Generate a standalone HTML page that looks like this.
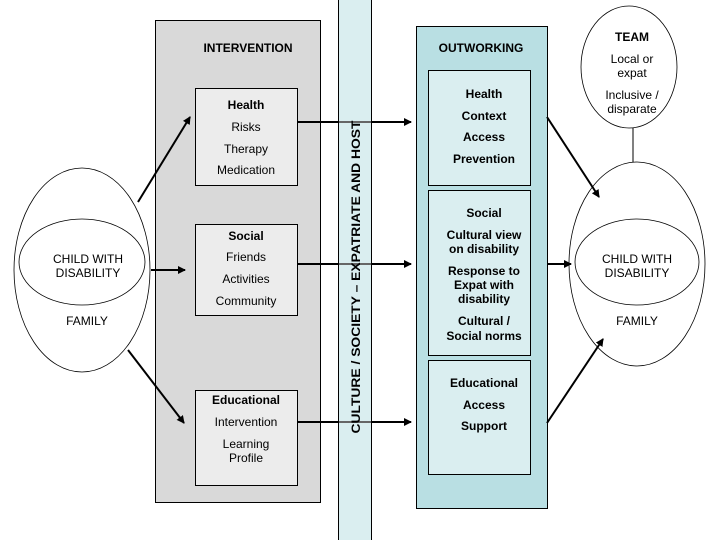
<!DOCTYPE html>
<html><head><style>html,body{margin:0;padding:0;background:#fff}svg{display:block}</style></head>
<body>
<svg width="720" height="540" xmlns="http://www.w3.org/2000/svg" font-family="Liberation Sans, Arial, sans-serif" font-size="12" text-anchor="middle">
<defs>
<marker id="a" markerWidth="8" markerHeight="8" refX="7" refY="4" orient="auto" markerUnits="userSpaceOnUse"><path d="M0,0 L8,4 L0,8 z" fill="#000"/></marker>
</defs>
<!-- intervention panel -->
<rect x="155.5" y="20.5" width="165" height="482" fill="#d9d9d9" stroke="#000"/>
<rect x="195.5" y="88.5" width="102" height="97" fill="#ececec" stroke="#000"/>
<rect x="195.5" y="224.5" width="102" height="91" fill="#ececec" stroke="#000"/>
<rect x="195.5" y="390.5" width="102" height="95" fill="#ececec" stroke="#000"/>
<text x="248" y="52" font-weight="bold">INTERVENTION</text>
<text x="246" y="109" font-weight="bold">Health</text>
<text x="246" y="131">Risks</text>
<text x="246" y="153">Therapy</text>
<text x="246" y="174">Medication</text>
<text x="246" y="240" font-weight="bold">Social</text>
<text x="246" y="261">Friends</text>
<text x="246" y="283">Activities</text>
<text x="246" y="305">Community</text>
<text x="246" y="404" font-weight="bold">Educational</text>
<text x="246" y="426">Intervention</text>
<text x="246" y="448">Learning</text>
<text x="246" y="462">Profile</text>
<!-- band -->
<rect x="338.5" y="-1" width="33" height="542" fill="#daeef0" stroke="#000"/>
<!-- outworking -->
<rect x="416.5" y="26.5" width="131" height="482" fill="#b9dfe3" stroke="#000"/>
<rect x="428.5" y="70.5" width="102" height="115" fill="#daeef0" stroke="#000"/>
<rect x="428.5" y="190.5" width="102" height="165" fill="#daeef0" stroke="#000"/>
<rect x="428.5" y="360.5" width="102" height="114" fill="#daeef0" stroke="#000"/>
<text x="481" y="52" font-weight="bold">OUTWORKING</text>
<g font-weight="bold">
<text x="484" y="98">Health</text>
<text x="484" y="120">Context</text>
<text x="484" y="141">Access</text>
<text x="484" y="163">Prevention</text>
<text x="484" y="217">Social</text>
<text x="484" y="239">Cultural view</text>
<text x="484" y="253">on disability</text>
<text x="484" y="275">Response to</text>
<text x="484" y="289">Expat with</text>
<text x="484" y="303">disability</text>
<text x="484" y="325">Cultural /</text>
<text x="484" y="340">Social norms</text>
<text x="484" y="387">Educational</text>
<text x="484" y="409">Access</text>
<text x="484" y="430">Support</text>
</g>
<!-- horizontal connectors -->
<g stroke="#000" stroke-width="2" marker-end="url(#a)">
<line x1="297" y1="122" x2="411" y2="122"/>
<line x1="297" y1="264" x2="411" y2="264"/>
<line x1="297" y1="422" x2="411" y2="422"/>
</g>
<g stroke="#666" stroke-width="2">
<line x1="339" y1="122" x2="371" y2="122"/>
<line x1="339" y1="264" x2="371" y2="264"/>
<line x1="339" y1="422" x2="371" y2="422"/>
</g>
<text transform="translate(360,277) rotate(-90)" font-weight="bold" font-size="11.5" textLength="313" lengthAdjust="spacingAndGlyphs">CULTURE / SOCIETY – EXPATRIATE AND HOST</text>
<!-- left ellipses -->
<ellipse cx="82" cy="270" rx="68" ry="102" fill="#fff" stroke="#000" stroke-width="0.8"/>
<ellipse cx="82" cy="262" rx="63" ry="43" fill="#fff" stroke="#000" stroke-width="0.8"/>
<text x="88" y="263">CHILD WITH</text>
<text x="88" y="277">DISABILITY</text>
<text x="87" y="325">FAMILY</text>
<!-- right ellipses -->
<ellipse cx="637" cy="264" rx="68" ry="102" fill="#fff" stroke="#000" stroke-width="0.8"/>
<ellipse cx="637" cy="262" rx="62" ry="43" fill="#fff" stroke="#000" stroke-width="0.8"/>
<text x="637" y="263">CHILD WITH</text>
<text x="637" y="277">DISABILITY</text>
<text x="637" y="325">FAMILY</text>
<line x1="633" y1="128" x2="633" y2="162" stroke="#000"/>
<ellipse cx="629" cy="67" rx="48" ry="61" fill="#fff" stroke="#000" stroke-width="0.8"/>
<text x="632" y="41" font-weight="bold">TEAM</text>
<text x="632" y="63">Local or</text>
<text x="632" y="77">expat</text>
<text x="632" y="99">Inclusive /</text>
<text x="632" y="113">disparate</text>
<!-- diagonal arrows -->
<g stroke="#000" stroke-width="2" marker-end="url(#a)">
<line x1="138" y1="202" x2="190" y2="117"/>
<line x1="151" y1="270" x2="185" y2="270"/>
<line x1="128" y1="350" x2="184" y2="423"/>
<line x1="547" y1="117" x2="599" y2="197"/>
<line x1="548" y1="264" x2="571" y2="264"/>
<line x1="547" y1="423" x2="603" y2="339"/>
</g>
</svg>
</body></html>
